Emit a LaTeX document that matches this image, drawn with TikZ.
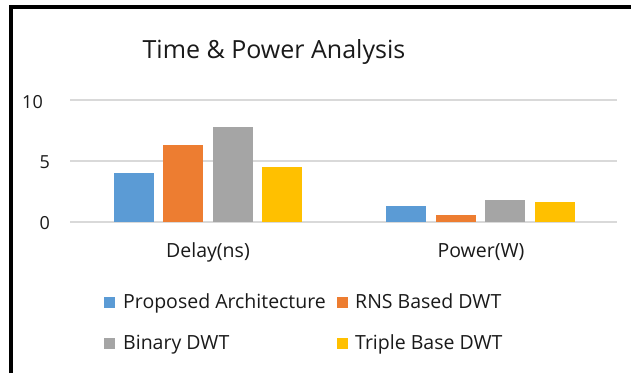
\documentclass[tikz,border=0pt]{standalone}
\usepackage{fontspec}
\setmainfont{Open Sans}
\definecolor{sblue}{HTML}{5B9BD5}
\definecolor{sorange}{HTML}{ED7D31}
\definecolor{sgray}{HTML}{A5A5A5}
\definecolor{syellow}{HTML}{FFC000}
\definecolor{grid}{HTML}{D9D9D9}
\definecolor{txt}{HTML}{1A1A1A}
\begin{document}
\begin{tikzpicture}[x=1pt,y=-1pt,
  ticklbl/.style={anchor=base east,font=\fontsize{18}{18}\selectfont,text=txt,inner sep=0pt},
  catlbl/.style={anchor=base,font=\fontsize{19.5}{19.5}\selectfont,text=txt,inner sep=0pt},
  legtxt/.style={anchor=base west,font=\fontsize{19.5}{19.5}\selectfont,text=txt,inner sep=0pt},
  swatch/.style={minimum size=11pt,inner sep=0pt,draw=none}]
  \useasboundingbox (0,0) rectangle (631,373);
  \fill[white] (0,0) rectangle (631,373);
  % frame (top and left edges)
  \draw[line width=4pt] (11,373) -- (11,7) -- (631,7);
  % title
  \node[anchor=base,font=\fontsize{25}{25}\selectfont,text=txt,inner sep=0pt] (title) at (274,58) {Time \& Power Analysis};
  % gridlines, 12.2 px per unit
  \foreach \v/\yy in {0/222,5/161,10/100}{
    \draw[grid,line width=1.2pt] (70,\yy) -- (617,\yy);
  }
  \node[ticklbl] (t10) at (43,108) {10};
  \node[ticklbl] (t5) at (50,168) {5};
  \node[ticklbl] (t0) at (50,229) {0};
  % Delay bars
  \fill[sblue]   (114,222) rectangle (154,173);
  \fill[sorange] (163,222) rectangle (203,145);
  \fill[sgray]   (213,222) rectangle (253,127);
  \fill[syellow] (262,222) rectangle (302,167);
  % Power bars
  \fill[sblue]   (386,222) rectangle (426,206);
  \fill[sorange] (436,222) rectangle (476,215);
  \fill[sgray]   (485,222) rectangle (525,200);
  \fill[syellow] (535,222) rectangle (575,202);
  % category labels
  \node[catlbl] (cdelay) at (208,257) {Delay(ns)};
  \node[catlbl] (cpower) at (481,257) {Power(W)};
  % legend
  \node[swatch,fill=sblue]   (s1) at (109.5,302) {};
  \node[legtxt] (l1) at (123,308) {Proposed Architecture};
  \node[swatch,fill=sorange] (s2) at (342.5,302) {};
  \node[legtxt] (l2) at (355,308) {RNS Based DWT};
  \node[swatch,fill=sgray]   (s3) at (109.5,343) {};
  \node[legtxt] (l3) at (123,349) {Binary DWT};
  \node[swatch,fill=syellow] (s4) at (342.5,343) {};
  \node[legtxt] (l4) at (355,349) {Triple Base DWT};
\end{tikzpicture}
\end{document}
